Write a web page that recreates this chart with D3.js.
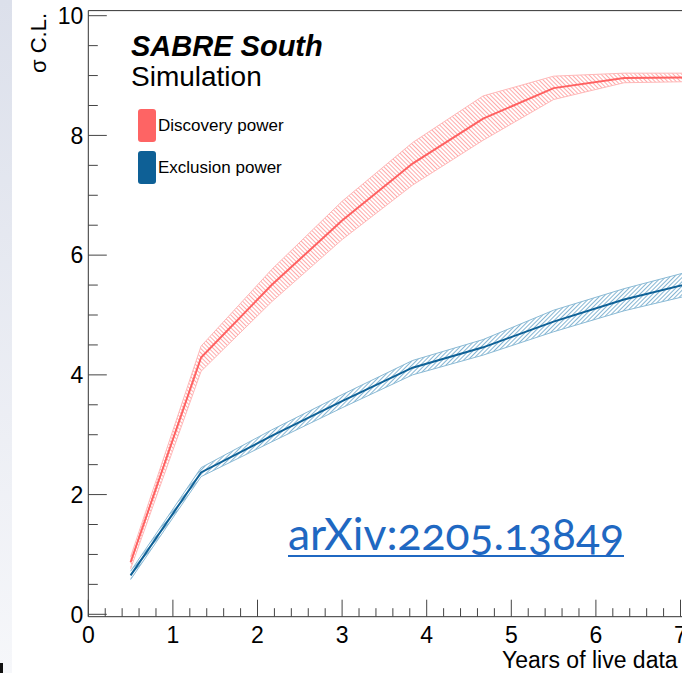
<!DOCTYPE html>
<meta charset="utf-8">
<style>
body { margin: 0; background: #fff; }
text { font-family: 'Liberation Sans', Arial, sans-serif; }
.arxiv { font-family: 'Lato', 'Open Sans', sans-serif; font-variant-numeric: oldstyle-nums; }
</style>
<body>
<script src="https://d3js.org/d3.v7.min.js"></script>
<script>

// values (sigma C.L. vs years of live data)
const years = [0.5, 1.333, 2.167, 3.0, 3.833, 4.667, 5.5, 6.333, 7.167];
const discovery   = [0.87, 4.29, 5.50, 6.58, 7.53, 8.28, 8.79, 8.96, 8.97];
const discoveryLo = [0.76, 4.06, 5.22, 6.26, 7.17, 7.92, 8.60, 8.88, 8.90];
const discoveryHi = [0.96, 4.48, 5.76, 6.90, 7.88, 8.66, 8.99, 9.04, 9.04];
const exclusion   = [0.65, 2.37, 2.98, 3.56, 4.12, 4.46, 4.89, 5.26, 5.55];
const exclusionLo = [0.58, 2.30, 2.88, 3.45, 4.00, 4.33, 4.72, 5.07, 5.35];
const exclusionHi = [0.72, 2.45, 3.08, 3.67, 4.24, 4.59, 5.08, 5.44, 5.75];
const yTicks = [0, 2, 4, 6, 8, 10];
const xTicks = [0, 1, 2, 3, 4, 5, 6, 7, 8];

const width = 682, height = 673;

let svg = d3.select("body").append("svg")
            .attr("width", width)
            .attr("height", height);

let defs = svg.append("defs");
let grad = defs.append("linearGradient").attr("id", "strip")
    .attr("x1", 0).attr("y1", 0).attr("x2", 0).attr("y2", 1);
grad.append("stop").attr("offset", 0).attr("stop-color", "#dce0eb");
grad.append("stop").attr("offset", 1).attr("stop-color", "#f6f7fa");

function hatch(id, color, dir) {
  const p = defs.append("pattern").attr("id", id)
      .attr("patternUnits", "userSpaceOnUse")
      .attr("width", 3).attr("height", 3)
      .attr("patternTransform", `rotate(${dir})`);
  p.append("line").attr("x1", 0.5).attr("y1", 0).attr("x2", 0.5).attr("y2", 3)
      .attr("stroke", color).attr("stroke-width", 1);
}
hatch("hatchRed", "#ffaaaa", -45);
hatch("hatchBlue", "#86b6d3", 45);

svg.append("rect").attr("width", 12).attr("height", height).attr("fill", "url(#strip)");
svg.append("rect").attr("x", 0).attr("y", 663).attr("width", 3).attr("height", 10).attr("fill", "#111");

let x = d3.scaleLinear().domain([0, 8]).range([88.3, 88.3 + 8 * 84.6]),
    y = d3.scaleLinear().domain([0, 10]).range([614.3, 15.7]);

const frameTop = y(10.085), frameBottom = y(-0.04);

// bands
function band(lo, hi, fill, edge) {
  const data = years.map((d, i) => ({x: d, lo: lo[i], hi: hi[i]}));
  svg.append("path").datum(data)
      .attr("fill", fill)
      .attr("d", d3.area().x(d => x(d.x)).y0(d => y(d.lo)).y1(d => y(d.hi)));
  [lo, hi].forEach(arr => {
    svg.append("path").datum(arr)
        .attr("fill", "none").attr("stroke", edge).attr("stroke-width", 1)
        .attr("d", d3.line().x((d, i) => x(years[i])).y(d => y(d)));
  });
}
band(discoveryLo, discoveryHi, "url(#hatchRed)", "#ffb8b8");
band(exclusionLo, exclusionHi, "url(#hatchBlue)", "#8abad5");

function central(vals, color) {
  svg.append("path").datum(vals)
      .attr("fill", "none").attr("stroke", color).attr("stroke-width", 2)
      .attr("d", d3.line().x((d, i) => x(years[i])).y(d => y(d)));
}
central(discovery, "#ff6161");
central(exclusion, "#0e6197");

// frame
svg.append("line").attr("x1", x(0)).attr("x2", width).attr("y1", frameTop).attr("y2", frameTop)
    .attr("stroke", "#333");

// y axis
let yAxis = svg.append("g").attr("transform", `translate(${x(0)},0)`);
yAxis.append("line").attr("y1", frameTop).attr("y2", frameBottom).attr("stroke", "#333");
yAxis.selectAll(".minor").data(d3.range(0, 10.01, 0.5))
  .join("line").attr("class", "minor")
    .attr("x1", 0).attr("x2", d => d % 2 === 0 ? 18.5 : 9.5)
    .attr("y1", d => y(d)).attr("y2", d => y(d))
    .attr("stroke", "#444");
yAxis.selectAll("text").data(yTicks).join("text")
    .attr("x", -5).attr("y", d => y(d)).attr("dy", "0.36em")
    .attr("text-anchor", "end").attr("font-size", 23)
    .text(d => d);

// x axis
let xAxis = svg.append("g").attr("transform", `translate(0,${frameBottom})`);
xAxis.append("line").attr("x1", x(0)).attr("x2", width).attr("stroke", "#333");
xAxis.selectAll(".minor").data(d3.range(0, 8.01, 0.2).map(d => +d.toFixed(1)))
  .join("line").attr("class", "minor")
    .attr("x1", d => x(d)).attr("x2", d => x(d))
    .attr("y1", 0).attr("y2", d => Number.isInteger(d) ? -17 : -8.5)
    .attr("stroke", "#444");
xAxis.selectAll("text").data(xTicks).join("text")
    .attr("x", d => x(d)).attr("y", 26)
    .attr("text-anchor", "middle").attr("font-size", 23)
    .text(d => d);

// axis titles
svg.append("text")
    .attr("transform", "translate(46,13) rotate(-90)")
    .attr("text-anchor", "end").attr("font-size", 22)
    .text("σ C.L.");
svg.append("text")
    .attr("x", 502).attr("y", 668)
    .attr("font-size", 23)
    .text("Years of live data");

// labels
svg.append("text").attr("x", 131).attr("y", 56)
    .attr("font-size", 29).attr("font-weight", "bold").attr("font-style", "italic")
    .text("SABRE South");
svg.append("text").attr("x", 131).attr("y", 86)
    .attr("font-size", 28)
    .text("Simulation");

const legendItems = [
  {label: "Discovery power", color: "#fe6464", y: 109},
  {label: "Exclusion power", color: "#0e6096", y: 151}
];
let lg = svg.selectAll(".legend").data(legendItems).join("g").attr("class", "legend")
    .attr("transform", d => `translate(138,${d.y})`);
lg.append("rect").attr("width", 18).attr("height", 33).attr("rx", 3)
    .attr("fill", d => d.color);
lg.append("text").attr("x", 20).attr("y", 22).attr("font-size", 17)
    .text(d => d.label);

// arXiv reference
svg.append("text").attr("class", "arxiv")
    .attr("x", 288).attr("y", 550)
    .attr("font-size", 44.5).attr("fill", "#1f68c2")
    .attr("textLength", 336).attr("lengthAdjust", "spacing")
    .text("arXiv:2205.13849");
svg.append("line").attr("x1", 288).attr("x2", 624).attr("y1", 556).attr("y2", 556)
    .attr("stroke", "#1f68c2").attr("stroke-width", 2);

</script>
